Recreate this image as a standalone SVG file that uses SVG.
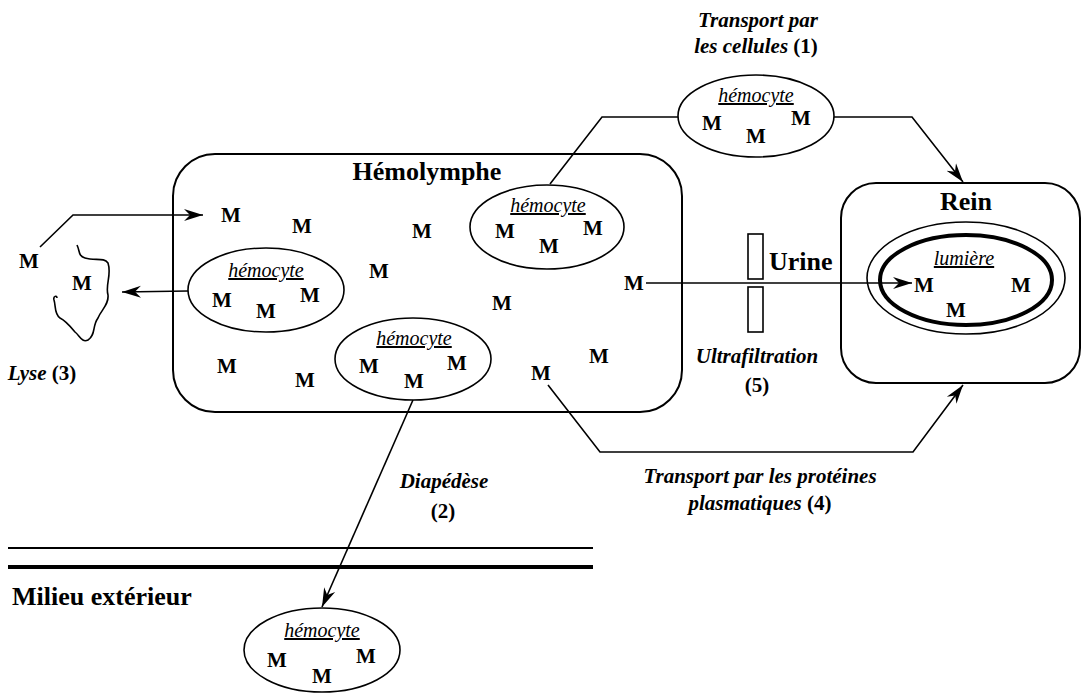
<svg xmlns="http://www.w3.org/2000/svg" width="1085" height="693" viewBox="0 0 1085 693">
<defs>
<marker id="ah" markerUnits="userSpaceOnUse" markerWidth="20" markerHeight="14" refX="19" refY="7" orient="auto">
<path d="M0,1 L19,7 L0,13 L6,7 z" fill="#000"/>
</marker>
<style>
.t{font-family:"Liberation Serif","Times New Roman",serif;fill:#000}
.title{font-size:26px;font-weight:bold}
.m{font-size:21px;font-weight:bold;text-anchor:middle}
.lab{font-size:21px;font-weight:bold;font-style:italic;text-anchor:middle}
.hc{font-size:20px;font-style:italic;text-anchor:middle;text-decoration:underline}
.cell{fill:#fff;stroke:#000;stroke-width:1.6}
.box{fill:none;stroke:#000;stroke-width:2}
.ln{fill:none;stroke:#000;stroke-width:1.6}
.up{font-style:normal}
</style>
</defs>
<rect width="1085" height="693" fill="#fff"/>

<g id="hemolymphe">
<rect class="box" x="173" y="154" width="509" height="258" rx="42"/>
<text class="t title" x="427" y="180" text-anchor="middle">Hémolymphe</text>
<text class="t m" x="231" y="222">M</text>
<text class="t m" x="302" y="233">M</text>
<text class="t m" x="422" y="238">M</text>
<text class="t m" x="379" y="278">M</text>
<text class="t m" x="502" y="310">M</text>
<text class="t m" x="227" y="373">M</text>
<text class="t m" x="305" y="387">M</text>
<text class="t m" x="541" y="380">M</text>
<text class="t m" x="599" y="363">M</text>
<text class="t m" x="634" y="290">M</text>
</g>

<g id="rein">
<rect class="box" x="841" y="183" width="239" height="200" rx="35"/>
<text class="t title" x="966" y="210" text-anchor="middle">Rein</text>
<ellipse cx="966" cy="278" rx="99" ry="56" fill="none" stroke="#000" stroke-width="1.6"/>
<ellipse cx="966" cy="280" rx="86" ry="45" fill="none" stroke="#000" stroke-width="4"/>
<text class="t hc" x="964" y="265">lumière</text>
<text class="t m" x="924" y="292">M</text>
<text class="t m" x="1021" y="292">M</text>
<text class="t m" x="956" y="317">M</text>
</g>

<g id="urine">
<rect x="748" y="234" width="15" height="45" fill="#fff" stroke="#000" stroke-width="1.6"/>
<rect x="748" y="287" width="15" height="45" fill="#fff" stroke="#000" stroke-width="1.6"/>
<text class="t title" x="769" y="270">Urine</text>
</g>

<g id="lyse">
<path class="ln" d="M77,245 C80,251 78,256 85,258 C95,261 104,257 108,263 C112,275 105,285 108,295 C109,305 101,310 98,318 C92,326 96,335 88,340 C82,343 80,336 75,332 C70,326 66,321 60,318 C54,314 56,306 54,300 C53,296 57,295 57,298"/>
<text class="t m" x="82" y="290">M</text>
<text class="t m" x="29" y="268">M</text>
<text class="t lab" x="42" y="380" text-anchor="start">Lyse <tspan class="up">(3)</tspan></text>
</g>

<g id="hemocyte-left">
<ellipse class="cell" cx="266" cy="290" rx="78" ry="42"/>
<text class="t hc" x="266" y="277">hémocyte</text>
<text class="t m" x="222" y="307">M</text>
<text class="t m" x="310" y="302">M</text>
<text class="t m" x="266" y="318">M</text>
</g>

<g id="hemocyte-bottom">
<ellipse class="cell" cx="413" cy="359" rx="78" ry="41"/>
<text class="t hc" x="414" y="345">hémocyte</text>
<text class="t m" x="369" y="373">M</text>
<text class="t m" x="457" y="370">M</text>
<text class="t m" x="414" y="388">M</text>
</g>

<g id="hemocyte-top">
<ellipse class="cell" cx="547" cy="227" rx="77" ry="42"/>
<text class="t hc" x="548" y="212">hémocyte</text>
<text class="t m" x="505" y="238">M</text>
<text class="t m" x="593" y="235">M</text>
<text class="t m" x="549" y="253">M</text>
</g>

<g id="hemocyte-transport">
<ellipse class="cell" cx="756" cy="116" rx="78" ry="41"/>
<text class="t hc" x="756" y="102">hémocyte</text>
<text class="t m" x="712" y="130">M</text>
<text class="t m" x="801" y="125">M</text>
<text class="t m" x="756" y="143">M</text>
</g>

<g id="hemocyte-exterieur">
<ellipse class="cell" cx="322" cy="650" rx="78" ry="42"/>
<text class="t hc" x="322" y="637">hémocyte</text>
<text class="t m" x="277" y="667">M</text>
<text class="t m" x="366" y="663">M</text>
<text class="t m" x="322" y="683">M</text>
</g>

<g id="milieu">
<line x1="8" y1="548" x2="593" y2="548" stroke="#000" stroke-width="2"/>
<line x1="8" y1="567" x2="593" y2="567" stroke="#000" stroke-width="4"/>
<text class="t title" x="12" y="605">Milieu extérieur</text>
</g>

<g id="labels">
<text class="t lab" x="758" y="27">Transport par</text>
<text class="t lab" x="756" y="53">les cellules <tspan class="up">(1)</tspan></text>
<text class="t lab" x="444" y="488">Diapédèse</text>
<text class="t lab" x="443" y="518"><tspan class="up">(2)</tspan></text>
<text class="t lab" x="757" y="363">Ultrafiltration</text>
<text class="t lab" x="757" y="392"><tspan class="up">(5)</tspan></text>
<text class="t lab" x="760" y="483">Transport par les protéines</text>
<text class="t lab" x="760" y="510">plasmatiques <tspan class="up">(4)</tspan></text>
</g>

<g id="connectors">
<polyline class="ln" points="40,247 73,215 203,215" marker-end="url(#ah)"/>
<line class="ln" x1="188" y1="291" x2="122" y2="292" marker-end="url(#ah)"/>
<line class="ln" x1="413" y1="400" x2="322" y2="607" marker-end="url(#ah)"/>
<polyline class="ln" points="550,184 602,117 678,117"/>
<polyline class="ln" points="834,117 912,117 963,182" marker-end="url(#ah)"/>
<line class="ln" x1="646" y1="283" x2="912" y2="283" marker-end="url(#ah)"/>
<polyline class="ln" points="548,385 600,452 913,452 963,385" marker-end="url(#ah)"/>
</g>
</svg>
